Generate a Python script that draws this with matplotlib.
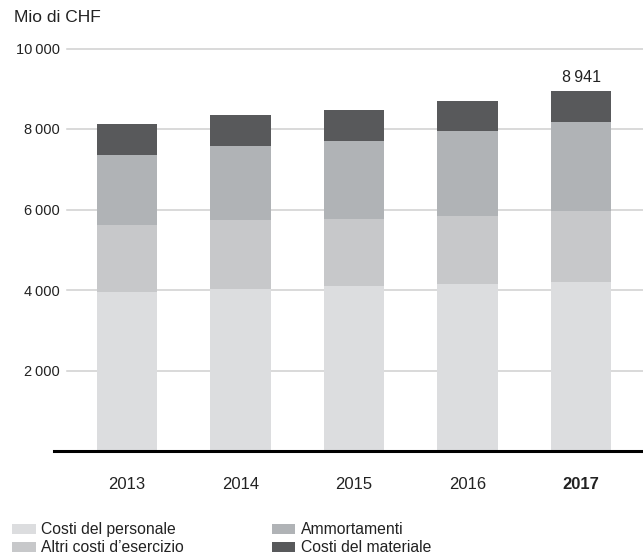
import matplotlib.pyplot as plt
from matplotlib.patches import Patch

plt.rcParams['font.family'] = ['Liberation Sans', 'DejaVu Sans']

years = ['2013', '2014', '2015', '2016', '2017']
personale = [3960, 4030, 4110, 4160, 4210]
altri = [1660, 1715, 1660, 1690, 1760]
ammortamenti = [1740, 1840, 1940, 2110, 2210]
materiale = [770, 770, 770, 740, 761]
totale_2017 = 8941

series = [
    ('Costi del personale', personale, '#dcdddf'),
    ('Altri costi d\u2019esercizio', altri, '#c7c8ca'),
    ('Ammortamenti', ammortamenti, '#b0b3b6'),
    ('Costi del materiale', materiale, '#58595b'),
]
yticks = [2000, 4000, 6000, 8000, 10000]
ytick_labels = ['2\u2009000', '4\u2009000', '6\u2009000', '8\u2009000', '10\u2009000']

fig = plt.figure(figsize=(6.43, 5.6), dpi=100)
W, H = 643, 560
ax = fig.add_axes([67 / W, 109 / H, (W - 67) / W, (451.3 - 48.8) / H])

x = list(range(len(years)))
bottom = [0] * len(years)
handles = []
for name, vals, col in series:
    ax.bar(x, vals, width=0.53, bottom=bottom, color=col, zorder=2)
    bottom = [b + v for b, v in zip(bottom, vals)]
    handles.append(Patch(facecolor=col, label=name))

# gridlines
for yt in yticks:
    ax.axhline(yt, color='#cfcfcf', lw=1.1, zorder=1, clip_on=False)
ax.axhline(0, xmin=-13 / (W - 67), xmax=1, color='black', lw=2.2, zorder=3, clip_on=False)

ax.set_xlim(-0.529, 4.546)
ax.set_ylim(0, 10000)
ax.set_yticks(yticks)
ax.set_yticklabels(ytick_labels, fontsize=10.5, color='#222222')
ax.set_xticks(x)
ax.set_xticklabels(years, fontsize=12, color='#222222')
ax.get_xticklabels()[-1].set_fontweight('bold')
ax.tick_params(axis='y', length=0, pad=5)
ax.tick_params(axis='x', length=0, pad=19)
for s in ax.spines.values():
    s.set_visible(False)

ax.text(4, totale_2017 + 150, '8\u2009941', ha='center', va='bottom', fontsize=11.5, color='#222222')

fig.text(14 / W, 1 - 17 / H, 'Mio di CHF', fontsize=12.5, va='center', ha='left', color='#222222')

fig.legend(handles=handles, loc='upper left', bbox_to_anchor=(6 / W, 1 - 516 / H), ncol=2,
           frameon=False, fontsize=11.3, handlelength=1.5, handleheight=0.65,
           handletextpad=0.35, columnspacing=5.6, labelspacing=0.2, borderaxespad=0,
           labelcolor='#222222')

fig.savefig('out.png', dpi=100)
